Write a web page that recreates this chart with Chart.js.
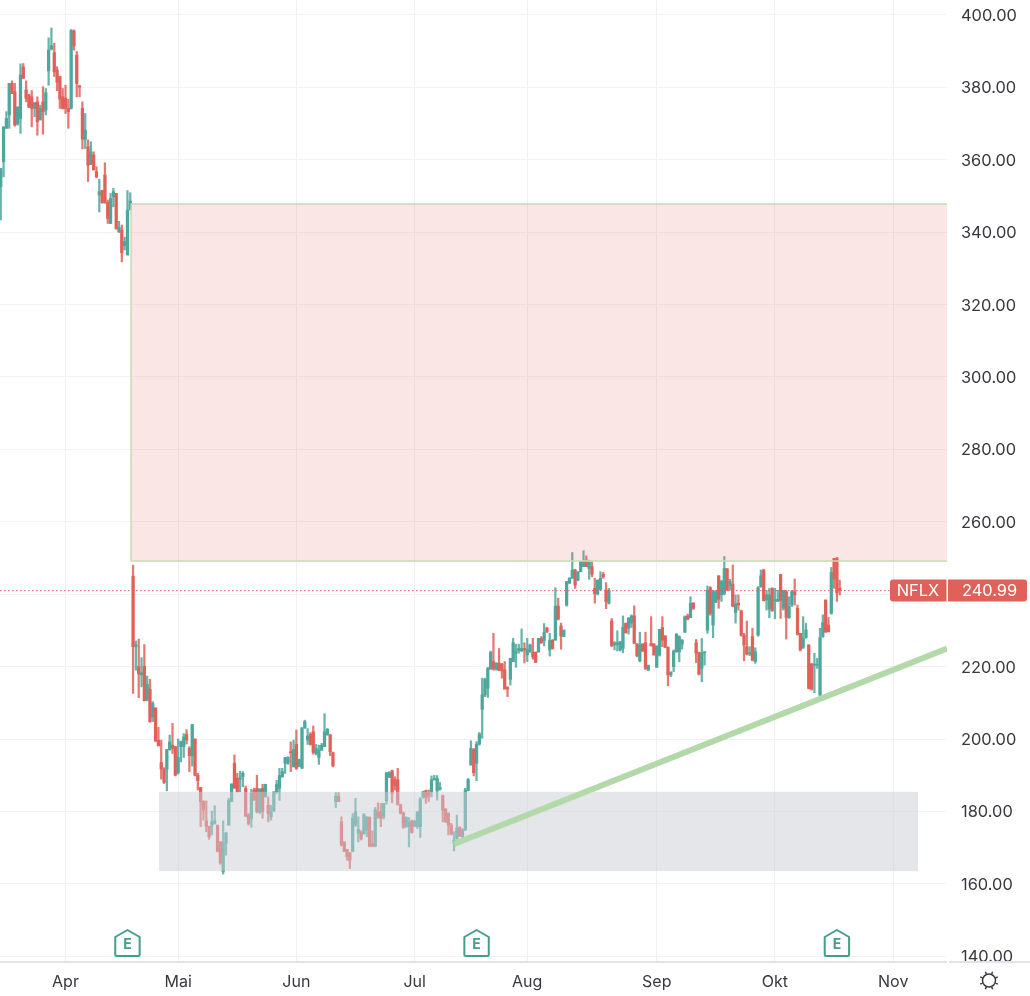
<!DOCTYPE html>
<html>
<head>
<meta charset="utf-8">
<title>NFLX</title>
<script src="https://cdn.jsdelivr.net/npm/chart.js@4/dist/chart.umd.min.js"></script>
<style>html,body{margin:0;padding:0;background:#fff}canvas{display:block}</style>
</head>
<body>
<canvas id="c" width="1030" height="996" style="width:1030px;height:996px"></canvas>
<script>
// Half-day candles. First candle sits at session index firstSession; Apr 1 is session 0.
const firstSession = -23;
const opens = [
352.6,359.5,368.7,372.4,381.1,378.8,369.9,371.4,385.6,379.3,
377.9,377.4,374.2,376,371,376,373.7,384.6,390.6,389.6,
384.8,383,377.4,377,374.2,374.2,395.6,388.9,380.4,374.2,
365.6,363.6,358.7,361.3,356.7,350.3,351.5,355.8,348.2,342.4,
349.8,350.7,340.1,340.6,336.3,333.7,346.3,245,225.5,220,
217.7,220.1,210.8,213.7,206.1,208.6,199.7,193.5,191.7,191.7,
197.1,198.3,197.9,190.7,197.9,197.9,201.3,197.4,195.3,200,
190,186.6,182.7,177.4,175.9,176.2,176.7,176.2,171.6,163.3,
171.2,176.2,182.7,193.3,189.1,188.9,189.6,186.3,179,178.1,
185.9,186.4,179.9,186.4,184,181.7,178.5,180.2,185.4,186.4,
189.6,193.3,193.3,196.5,192.3,198.5,192.5,191.9,203.1,199.7,
201.3,202,196,194.9,196.9,197.9,201.1,201.1,196.2,182.7,
184.2,177.1,171.6,169.5,168.6,168.9,176.2,173.9,174.2,173.9,
174.8,178.3,171.2,170.4,179.9,179.9,178.5,182.9,189.4,191.2,
188.8,188.7,181.8,179.5,175.8,175.8,177.3,175.9,175.8,175.8,
184,185.7,185.2,185.4,188.7,185.7,186.1,184.3,180.7,179.5,
176.2,171.3,172.5,175.5,173,175,185.7,192.8,197.1,193.3,
198.6,208.2,212.2,214,219.3,221.4,219.2,220.9,220.7,219.1,
214.2,216.5,221.4,223.7,224.4,224.4,225,223.2,224.1,223.9,
223.9,224.1,227.8,227.2,230.6,224.6,227.3,227.3,236.7,231.2,
228.3,237,243,244.4,246.7,243.9,246.2,247.6,249,247.1,
247.6,241.6,240.1,241.4,245.5,241.1,237.5,232.6,226,226,
224.6,225,232,230.6,232,234,226.2,221.6,226.2,226.6,
219,226.4,226.2,219.8,223.2,230.8,228.5,225.3,217.7,220,
224.1,224.1,226.2,229.5,234,233.5,237.5,226.6,223.8,219.5,
223.8,230.1,241.8,231.5,237.8,245.1,239.8,240.2,247,242.5,
242.8,234.9,237.5,235.4,228.7,225.5,223.5,228.3,221.4,228.7,
242.1,246.7,238.4,235.9,241.6,238.2,238,245.5,236.1,240.7,
233.6,237,240.7,236.1,229.2,225.3,228,226,220.7,220.4,
220.4,212.1,228.3,238.4,231.5,234.7,249.9,249.9,241.6];
const closes = [
357.6,369.1,371.4,381.1,378.3,369.6,374.5,383.4,382.5,377,
374.5,374.2,375.8,370.5,374.2,373.3,378.5,390.3,391.5,384.3,
381.4,376.8,374.2,374.2,373.3,395.7,391.5,381.1,380.1,365.7,
368.2,358.5,362.2,357.2,355.3,351.2,348.2,348.1,343.8,349.3,
351.2,341,341.3,334.3,337.4,346.1,348.6,225.5,226,218,
218.3,210.6,215.1,204.8,209.8,199.5,198.1,191.7,188,197.1,
199.2,197.4,190,194.9,199.4,200.6,199.7,195.4,204,190,
188.5,182.7,180.4,175.8,173,177.1,177.4,169,165.8,171.2,
174.1,183.1,187.5,186.4,185.4,189.3,190.5,178.7,176.7,185,
183.1,179.9,186.2,180,187.5,179.4,179.9,185.4,187.5,189.9,
191,194.9,194.9,196.2,197.1,191.9,194.4,203.1,204.8,200.8,
198.5,196.3,197.4,196.9,198.3,202,202.7,196.5,192.6,184.2,
182.7,170.7,168.9,167.5,166.5,178.1,179.9,175,172.5,179,
178.5,170.4,170.4,180.4,178.5,178.1,182.2,190.7,190.7,185,
187.1,181.8,179.5,175.6,178.3,177.1,174.2,177.3,179.9,183.3,
185.4,183.8,184.3,188.7,189.1,189.1,186.6,180.4,177.2,176.2,
173.7,172.1,175.3,173.2,174.9,185.9,188.8,197.4,190.7,198.6,
201.4,212.2,216.5,219.5,223.9,219.3,220.9,219,218.9,213.8,
213.8,222.3,226.6,224.1,225,225,224.6,224.8,226,222.7,
221.2,227.8,226.6,229.4,229.6,227.2,225,236.7,233.1,228.5,
230.1,243.5,244.4,246.7,242.5,246.2,249,249,247.6,249,
245.5,240.1,243.9,244.4,244.8,238,241.1,225.8,226.6,226.6,
226.9,230.8,229.4,233.3,234,226.4,223,226,224.4,219.5,
220.4,225.7,223.2,225.7,230.3,227.3,225.3,217.7,218.4,224.3,
228.9,228.3,227.3,233.8,233.1,237.5,236.1,223.7,217.9,223.8,
224.1,241.1,234.7,240.7,240.7,238.6,243.5,247.1,241.2,243.5,
236.7,237.3,237,228.7,226,223.5,223.7,221.8,224.1,241.8,
245.1,238.2,239.8,239.8,235.4,238.4,238.6,238.2,241.1,233.6,
236.6,240.7,239.8,228.9,224.6,227.8,230.1,214,213.8,220.7,
220.7,228,232.1,229.6,229.6,246,244.2,240.4,240.99];
const highs = [
357.6,369.1,373.3,381.1,381.8,381.1,374.7,386.5,386.6,381.8,
378.1,379.1,375.8,377.4,375.1,380.2,379.7,393.7,396.4,392.2,
385.7,383.1,379.7,380.6,376.7,396,395.9,389.9,380.6,376,
372.8,365.5,365,362.2,358.1,354.6,351.6,359.2,348.9,350.7,
352.1,350.7,343,342,338.6,351.5,350.9,248,227.1,227.6,
222.5,226.1,217.4,216.5,210.3,208.6,203.2,199.7,192.1,197.1,
201.1,204.3,197.9,200,199.4,201.5,202.6,197.9,204,200,
190.5,186.6,183,182.9,175.9,180.1,181.6,176.2,171.6,177.4,
174.1,183.6,187.7,195.6,190.5,191.1,191,187,179.4,186.1,
186.4,190,186.2,187.5,187.5,184,181.7,185.4,188.6,191.9,
191.9,194.9,195.1,199.2,199.7,202.5,194.4,203.1,205.2,202.9,
201.8,203.6,198.5,198.3,198.8,207,202.9,201.3,196.4,185.2,
185.2,178.5,171.6,169.5,168.6,179.4,183.6,178.5,174.7,179.4,
178.5,178.5,174.6,181.1,182.4,182.2,182.2,190.7,191,191.4,
189.6,191.9,182,179.9,178.5,178.3,177.6,177.6,179.9,183.8,
185.6,185.9,185.9,189.8,190,189.9,188,184.5,180.7,179.6,
176.7,174.4,179,175.8,175.3,186.4,189.1,199.5,197.4,199.3,
201.8,216.8,216.8,219.8,224.3,229.2,221.1,225,220.9,221.4,
214.5,222.3,227.8,226.2,226.2,230.4,226.6,227.8,226.2,227.8,
224.1,227.8,228.3,231.9,230.9,229.2,227.5,241.8,238.9,232,
230.1,243.5,244.6,251.5,246.9,246.2,249,252,250.6,249.4,
249,244.4,243.9,246.2,246,243.2,241.6,233.3,226.9,229.9,
226.9,234,232,233.6,234.3,236.8,226.4,229.5,226.4,229.5,
220.4,233.8,226.4,225.7,230.3,233.8,228.5,225.5,218.6,224.6,
229.2,228.5,227.5,234,234.5,239.3,237.7,227.5,224,227.8,
224.1,242.3,242.1,241.1,241.1,245.1,243.9,250.4,247.1,244.1,
248.1,239.8,239.8,235.6,229.2,232.6,225.5,230.6,225.2,242.1,
246.7,246.9,241.1,241.6,241.8,241.6,241.1,245.5,241.1,241.1,
239.3,241.1,244.2,237,229.2,233.8,232,226,220.9,223.7,
222.3,230.6,234.3,238.4,233.6,247.4,249.9,250.2,243.9];
const lows = [
343.4,355.3,368.7,368.7,378.3,369.3,369.6,367.3,382.5,376,
374.5,369.1,371.9,366.8,371,367.1,372.4,380.6,390.3,383,
379.1,374.2,374,372.8,368.7,374,390.3,377.4,377.4,363,
363.1,354,358.7,357.2,355,345.6,348,348,342.4,342.4,
347,340.8,339.9,331.8,335.1,333.7,346.1,212.6,219,211.4,
214.4,210.5,210.5,204.6,204.8,199.2,198.1,188.9,187.7,185.7,
196.9,196,189.8,190.3,193.7,194.9,198.6,191,192.5,189.8,
185.9,175.8,177.6,174.4,172.3,173.5,176.5,168.8,165.4,162.7,
167.9,176.2,182.7,186.4,185.4,185.4,186.8,178.5,176.2,175.6,
183.1,179.6,179.4,178.1,184,177.1,177.6,179.9,185,183,
189.4,190.5,193,191,192.3,191.6,192.3,191.9,202.9,198.5,
198.3,195.8,195.6,193,196.9,197.9,201.1,195.4,192.3,181.1,
182.7,170.4,168.9,166.5,164.2,168.9,175.9,171.6,172.1,173.7,
173,170.2,170.2,170.2,178.1,175.8,177.9,182,189.4,182.4,
185.9,181.8,179.3,175.3,175.6,170.2,174,175.8,175.3,172.8,
183.6,182.2,182.7,184,188.7,183.1,185.9,177.1,176.9,173.5,
173.5,169.1,172.3,173,172.8,174.7,185.7,192.8,189.8,188.5,
198.3,200.2,211.7,211.5,219.3,219,219,218.9,216.8,213.8,
211.7,214.9,221.4,219.8,223.7,224.1,221,221.4,223.9,222,
221.1,223.9,226.4,225.7,229.4,222.9,224.8,227.3,232.9,224.8,
228.3,236.7,243,244.4,241.6,243.7,246.2,247.6,247.6,244.1,
244.8,237.5,239.8,241.1,244.4,236,237.3,225.5,224.6,224.3,
224.3,223.8,229.2,229,230.8,226.4,222.7,221.3,224.1,219.2,
218.9,225.7,223.2,219.8,222.9,225.5,225.3,214.7,217.2,218.6,
223.9,221.3,224.8,229.4,232.9,233.5,235.8,221.1,217.7,215.8,
220.4,229.2,234.2,228,237.7,236.1,238,239.8,241,241.1,
236.5,232,235.6,228.4,221.6,223.2,223,221.6,220.9,228.4,
241.9,238.1,235.6,233.5,235.3,233.2,238,233.3,235.6,227.6,
233.3,236.6,237,228.7,224.3,225,227.8,213.8,213.5,212.8,
219.5,212,228.1,229.4,229.6,234.5,241.6,238,239.8];

const monthLabels = ['Apr','Mai','Jun','Jul','Aug','Sep','Okt','Nov'];
const monthSessions = [0,40,82,124,164,210,252,294];
const priceTicks = [140,160,180,200,220,240,260,280,300,320,340,360,380,400];
const earningsSessions = [22,146,274];
const earningsLetter = 'E';
const symbolName = 'NFLX';
const lastPrice = 240.99;
const gapZoneSessions = [23.3,313.1];
const gapZonePrices = [347.8,249.2];
const supportZoneSessions = [33.2,302.8];
const supportZonePrices = [185.4,163.5];
const trendSessions = [138,313.1];
const trendPrices = [171,225];
const lastPriceLineSessions = [-23.27,292.9];

const sessions = opens.map((_,i)=>firstSession+i);
const UP='#4da79c', DOWN='#e2605a', UPW='rgba(77,167,156,.85)', DOWNW='rgba(226,96,90,.85)';
const FONT='Inter, "Noto Sans", sans-serif';
const noPad = s => { s.paddingTop=0; s.paddingBottom=0; s.paddingLeft=0; s.paddingRight=0; };

const overlayPlugin = {
  id:'overlay',
  beforeDatasetDraw(chart,args){
    if(args.index!==2) return;              // first overlay line: paint zones beneath it
    const {ctx,scales:{x,y},chartArea:a}=chart;
    ctx.save();
    ctx.beginPath();ctx.rect(a.left,a.top,a.width,a.height);ctx.clip();
    // gap zone
    let x0=x.getPixelForValue(gapZoneSessions[0]),x1=x.getPixelForValue(gapZoneSessions[1]);
    let y0=y.getPixelForValue(gapZonePrices[0]),y1=y.getPixelForValue(gapZonePrices[1]);
    ctx.fillStyle='rgba(232,105,105,.17)';
    ctx.fillRect(x0,y0,x1-x0,y1-y0);
    ctx.strokeStyle='#c5dcb4';ctx.lineWidth=1.5;
    ctx.beginPath();ctx.moveTo(x1,y0);ctx.lineTo(x0,y0);ctx.lineTo(x0,y1);ctx.lineTo(x1,y1);ctx.stroke();
    // support zone
    x0=x.getPixelForValue(supportZoneSessions[0]);x1=x.getPixelForValue(supportZoneSessions[1]);
    y0=y.getPixelForValue(supportZonePrices[0]);y1=y.getPixelForValue(supportZonePrices[1]);
    ctx.fillStyle='rgba(203,205,213,.5)';
    ctx.fillRect(x0,y0,x1-x0,y1-y0);
    ctx.restore();
  },
  afterDatasetsDraw(chart){
    // white strip below the plot hides the foot of the lowest price label
    const {ctx,chartArea:a,width,height}=chart;
    ctx.save();ctx.fillStyle='#fff';ctx.fillRect(0,a.bottom,width,height-a.bottom);ctx.restore();
  },
  afterDraw(chart){
    const {ctx,scales:{x,y},chartArea:a,width}=chart;
    ctx.save();
    // axis rule
    ctx.fillStyle='#e2e2ea';
    ctx.fillRect(0,a.bottom-1,a.right,2);
    ctx.fillRect(a.right+2,a.bottom-1,width-a.right-2,2);
    // earnings badges
    earningsSessions.forEach(s=>{
      const cx=x.getPixelForValue(s),top=930,bot=956,hw=12.2;
      ctx.strokeStyle='#449f85';ctx.lineWidth=2;ctx.lineJoin='round';
      ctx.fillStyle='#fff';
      ctx.beginPath();
      ctx.moveTo(cx,top);ctx.lineTo(cx+hw,top+7);ctx.lineTo(cx+hw,bot-1.5);
      ctx.quadraticCurveTo(cx+hw,bot,cx+hw-1.5,bot);ctx.lineTo(cx-hw+1.5,bot);
      ctx.quadraticCurveTo(cx-hw,bot,cx-hw,bot-1.5);ctx.lineTo(cx-hw,top+7);ctx.closePath();
      ctx.fill();ctx.stroke();
      ctx.fillStyle='#449f85';ctx.font='700 14px '+FONT;ctx.textAlign='center';ctx.textBaseline='middle';
      ctx.fillText(earningsLetter,cx,944.5);
    });
    // last price tag
    const py=y.getPixelForValue(lastPrice);
    ctx.fillStyle='#e0605a';
    ctx.beginPath();ctx.roundRect(890,py-11,56.5,22,[3,0,0,3]);ctx.fill();
    ctx.beginPath();ctx.roundRect(948,py-11,79,22,[0,3,3,0]);ctx.fill();
    ctx.fillStyle='#fff';ctx.font='400 16.4px '+FONT;ctx.textBaseline='middle';ctx.textAlign='center';
    ctx.fillText(symbolName,918,py+0.5);
    ctx.fillText(lastPrice.toFixed(2),989.5,py+0.5);
    // settings icon
    const sx=989,sy=980.5;
    ctx.strokeStyle='#3a3a40';ctx.lineWidth=1.5;
    ctx.beginPath();ctx.arc(sx,sy,6.5,0,Math.PI*2);ctx.stroke();
    for(let i=0;i<8;i+=1){
      const t=Math.PI/8+i*Math.PI/4;
      ctx.beginPath();ctx.moveTo(sx+Math.cos(t)*7,sy+Math.sin(t)*7);ctx.lineTo(sx+Math.cos(t)*9.5,sy+Math.sin(t)*9.5);ctx.stroke();
    }
    ctx.restore();
  }
};

new Chart(document.getElementById('c'),{
  type:'bar',
  data:{datasets:[
    {label:'Wicks',order:3,grouped:false,barThickness:1.6,
      data:sessions.map((s,i)=>({x:s,y:[lows[i],highs[i]]})),
      backgroundColor:closes.map((c,i)=>c>=opens[i]?UPW:DOWNW)},
    {label:'Bodies',order:2,grouped:false,barThickness:2.6,minBarLength:1,
      data:sessions.map((s,i)=>({x:s,y:[opens[i],closes[i]]})),
      backgroundColor:closes.map((c,i)=>c>=opens[i]?UP:DOWN)},
    {type:'line',label:'Trend',order:1,
      data:trendSessions.map((s,i)=>({x:s,y:trendPrices[i]})),
      borderColor:'#b3d8aa',borderWidth:6,pointRadius:0,borderCapStyle:'butt',tension:0},
    {type:'line',label:'Last price',order:1,
      data:lastPriceLineSessions.map(s=>({x:s,y:lastPrice})),
      borderColor:'#e2605a',borderWidth:1,borderDash:[1.5,2.5],pointRadius:0,tension:0}
  ]},
  options:{
    responsive:false,animation:false,devicePixelRatio:1,
    layout:{padding:0,autoPadding:false},
    events:[],
    plugins:{legend:{display:false},tooltip:{enabled:false}},
    scales:{
      x:{type:'linear',position:'bottom',offset:false,min:-23.27,max:313.1,
        afterFit:s=>{s.height=34;noPad(s);},
        afterBuildTicks:s=>{s.ticks=monthSessions.map(v=>({value:v}));},
        border:{display:false},
        grid:{offset:false,color:'#f0f0f3',drawTicks:false},
        ticks:{z:1,autoSkip:false,maxRotation:0,padding:11,color:'#38383f',
          font:{family:FONT,size:16},
          callback:v=>monthLabels[monthSessions.indexOf(v)]}},
      y:{type:'linear',position:'right',min:138.4,max:404.14,
        afterFit:s=>{s.width=83;noPad(s);},
        afterBuildTicks:s=>{s.ticks=priceTicks.map(v=>({value:v}));},
        border:{display:false},
        grid:{color:'#f2f2f4',drawTicks:false},
        ticks:{padding:14,labelOffset:1,color:'#38383f',font:{family:FONT,size:16.4},
          callback:v=>v.toFixed(2)}}
    }
  },
  plugins:[overlayPlugin]
});
</script>
</body>
</html>
